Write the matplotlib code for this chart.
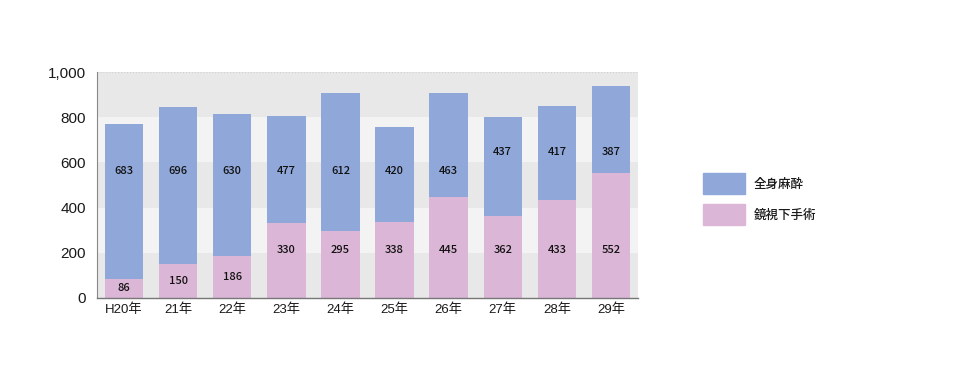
import matplotlib
matplotlib.use("Agg")
import matplotlib.pyplot as plt
from matplotlib.patches import Rectangle

plt.rcParams['font.family'] = ['Liberation Sans', 'Noto Sans CJK JP', 'DejaVu Sans']

categories = ['H20年', '21年', '22年', '23年', '24年', '25年', '26年', '27年', '28年', '29年']
endoscopic = [86, 150, 186, 330, 295, 338, 445, 362, 433, 552]   # 鏡視下手術
general = [683, 696, 630, 477, 612, 420, 463, 437, 417, 387]     # 全身麻酔
yticks = [0, 200, 400, 600, 800, 1000]
ytick_labels = ['0', '200', '400', '600', '800', '1,000']
series_names = ['全身麻酔', '鏡視下手術']

blue = '#8fa7d9'
pink = '#dcb6d6'
label_font = ['Noto Sans CJK JP', 'DejaVu Sans']

fig = plt.figure(figsize=(9.62, 3.84), dpi=100)
ax = fig.add_axes([0.1008, 0.224, 0.5624, 0.5885])

# alternating bands
for i in range(5):
    ax.axhspan(i * 200, (i + 1) * 200, color='#e8e8e8' if i % 2 == 0 else '#f3f3f3', zorder=0, lw=0)

x = range(len(categories))
ax.bar(x, endoscopic, width=0.71, color=pink, zorder=2)
ax.bar(x, general, width=0.71, bottom=endoscopic, color=blue, zorder=2)

# labels
for i, (e, g) in enumerate(zip(endoscopic, general)):
    ey = e / 2 if e < 200 else 212
    ax.text(i, ey, str(e), ha='center', va='center', fontsize=8, color='#111111',
            zorder=3, family=label_font, weight='medium')
    gy = 562 if i < 7 else 646
    ax.text(i, gy, str(g), ha='center', va='center', fontsize=8, color='#111111',
            zorder=3, family=label_font, weight='medium')

ax.set_xlim(-0.5, len(categories) - 0.5)
ax.set_ylim(0, 1000)
ax.set_yticks(yticks)
ax.set_yticklabels(ytick_labels, fontsize=11, color='#1a1a1a')
ax.set_xticks(list(x))
ax.set_xticklabels(categories, fontsize=9.5, color='#1a1a1a')
ax.tick_params(axis='both', length=0, pad=4)
ax.tick_params(axis='y', pad=8)
for s in ['top', 'right']:
    ax.spines[s].set_visible(False)
ax.spines['left'].set_color('#888888')
ax.spines['bottom'].set_color('#777777')
ax.spines['bottom'].set_linewidth(1.0)
ax.axhline(1000, color='#d0d0d0', lw=0.8, ls=':', zorder=1)

# legend
fig.patches.append(Rectangle((703 / 962, 1 - 194 / 384), 42 / 962, 21 / 384, transform=fig.transFigure, color=blue))
fig.patches.append(Rectangle((703 / 962, 1 - 225 / 384), 42 / 962, 21 / 384, transform=fig.transFigure, color=pink))
fig.text(754 / 962, 1 - 184 / 384, series_names[0], fontsize=9, va='center', ha='left', color='#1a1a1a',
         family=label_font, weight='medium')
fig.text(754 / 962, 1 - 215 / 384, series_names[1], fontsize=9, va='center', ha='left', color='#1a1a1a',
         family=label_font, weight='medium')

fig.savefig('out.png', dpi=100)
